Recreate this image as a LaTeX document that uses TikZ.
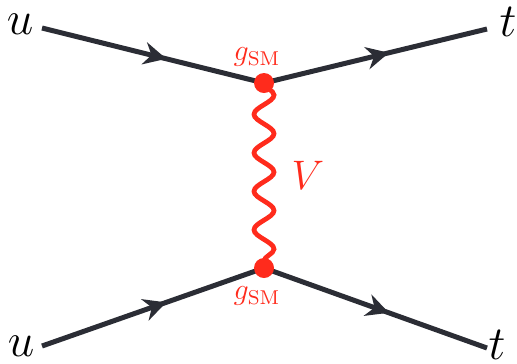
\RequirePackage{fix-cm}
\documentclass[tikz,border=0pt]{standalone}
\usepackage{amsmath}
\usepackage{tikz}
\usetikzlibrary{decorations.pathmorphing,decorations.markings,arrows.meta,calc,positioning}
\definecolor{fermion}{HTML}{2B2D35}
\definecolor{boson}{HTML}{FF2B1C}

\begin{document}
\begin{tikzpicture}[>=Stealth, x=0.4pt, y=-0.4pt,
    fline/.style={line width=2pt, color=fermion, postaction={decorate},
      decoration={markings, mark=at position 0.56 with {\arrow{Stealth[length=9pt,width=9pt]}}}},
    photon/.style={line width=1.9pt, color=boson, decorate,
      decoration={snake, segment length=15.4pt, amplitude=4pt}},
    vdot/.style={circle, fill=boson, inner sep=0pt, minimum size=8pt},
    ext/.style={font=\fontsize{19}{23}\selectfont, inner sep=0pt},
  ]
  \useasboundingbox (0,0) rectangle (517,363);
  % external legs and vertices
  \coordinate (a1) at (42,28);
  \coordinate (a2) at (42,346);
  \coordinate (b1) at (487,29);
  \coordinate (b2) at (487,348);
  \coordinate (vtop) at (264,83);
  \coordinate (vbot) at (264,268);
  \node[ext] (uin) at (20,24) {$u$};
  \node[ext] (uin2) at (21,346) {$u$};
  \node[ext] (tout) at (508,22) {$t$};
  \node[ext] (tout2) at (497,345) {$t$};
  \draw[fline] (a1) -- (vtop);
  \draw[fline] (vtop) -- (b1);
  \draw[fline] (a2) -- (vbot);
  \draw[fline] (vbot) -- (b2);
  % exchanged boson
  \draw[photon] (vtop) -- (vbot);
  \node[vdot] (dtop) at (vtop) {};
  \node[vdot] (dbot) at (vbot) {};
  \node[text=boson, font=\large] (gtop) at (257,57) {$g_{\mathrm{SM}}$};
  \node[text=boson, font=\large] (gbot) at (257,296) {$g_{\mathrm{SM}}$};
  \node[text=boson, font=\fontsize{16.5}{20}\selectfont] (vlab) at (308,175) {$V$};
\end{tikzpicture}
\end{document}
